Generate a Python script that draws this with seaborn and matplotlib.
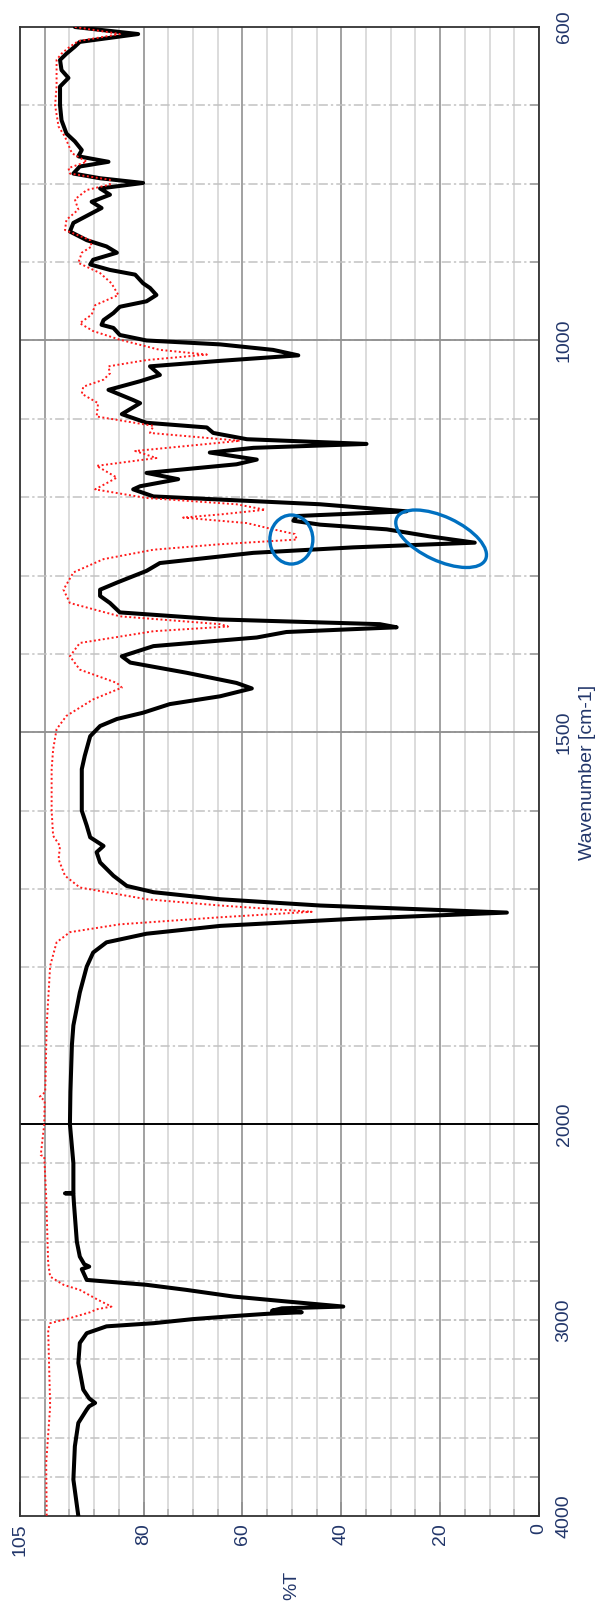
import numpy as np
import matplotlib
matplotlib.use("Agg")
import matplotlib.pyplot as plt
import seaborn as sns
from matplotlib.patches import Ellipse
from matplotlib.transforms import ScaledTranslation

sns.set_theme(style="white")
plt.rcParams['font.family'] = ['Liberation Sans', 'DejaVu Sans']

# ---------------- data ----------------
wn_black = [600, 609, 619, 625, 634, 642, 655, 665, 676, 700,
            719, 736, 746, 757, 765, 772, 778, 787, 793, 799,
            806, 814, 823, 831, 840, 850, 861, 872, 880, 888,
            897, 903, 910, 916, 927, 933, 942, 950, 957, 965,
            974, 980, 984, 993, 1000, 1005, 1012, 1019, 1026, 1033,
            1044, 1052, 1063, 1076, 1080, 1094, 1105, 1111, 1118, 1126,
            1132, 1137, 1143, 1152, 1158, 1169, 1177, 1186, 1190, 1199,
            1209, 1218, 1224, 1230, 1235, 1241, 1250, 1258, 1264, 1271,
            1284, 1294, 1309, 1318, 1326, 1335, 1347, 1356, 1362, 1366,
            1372, 1379, 1390, 1403, 1411, 1424, 1437, 1444, 1454, 1464,
            1475, 1483, 1492, 1505, 1530, 1547, 1600, 1619, 1634, 1645,
            1653, 1666, 1683, 1696, 1704, 1713, 1721, 1730, 1738, 1747,
            1757, 1768, 1781, 1799, 1832, 1874, 1899, 1959, 2000, 2200,
            2350, 2353, 2356, 2400, 2600, 2676, 2715, 2727, 2740, 2795,
            2820, 2846, 2880, 2905, 2931, 2940, 2952, 2960, 2968, 2980,
            2995, 3016, 3032, 3067, 3117, 3219, 3355, 3400, 3423, 3440,
            3457, 3525, 3644, 3814, 4000]
t_black = [93.9, 81.1, 92.9, 93.9, 95.6, 96.9, 96.6, 95.2, 96.9, 96.9,
           96.6, 95.6, 93.9, 92.5, 93.2, 87.1, 92.9, 94.2, 88.8, 80.1,
           88.8, 86.8, 90.5, 88.5, 91.2, 94.2, 94.9, 91.5, 87.5, 85.4,
           90.2, 90.8, 86.8, 81.7, 80.1, 78.7, 77.4, 79.4, 84.8, 86.1,
           88.1, 88.5, 86.1, 84.8, 79.4, 64.5, 53.8, 48.7, 64.5, 78.7,
           76.7, 80.7, 87.1, 82.1, 80.7, 84.4, 79.4, 67.2, 65.9, 59.1,
           34.9, 57.8, 66.6, 57.1, 61.2, 79.4, 73.0, 80.7, 82.1, 78.0,
           44.3, 26.8, 49.0, 49.7, 44.3, 30.8, 22.1, 13.0, 37.6, 57.8,
           76.7, 79.4, 85.4, 88.8, 88.8, 86.8, 84.8, 64.5, 32.2, 28.8,
           51.1, 57.1, 78.0, 84.4, 82.7, 71.3, 61.2, 58.1, 64.5, 74.7,
           80.1, 85.4, 88.8, 90.8, 91.9, 92.5, 92.5, 91.5, 90.8, 88.1,
           89.5, 88.8, 86.1, 83.4, 78.0, 64.5, 44.3, 6.5, 37.6, 64.5,
           79.4, 87.5, 90.2, 91.5, 92.9, 94.2, 94.5, 94.8, 94.9, 94.2,
           94.2, 95.9, 94.2, 94.1, 93.5, 92.9, 92.0, 91.0, 92.5, 91.5,
           79.4, 71.3, 61.8, 51.1, 39.6, 52.0, 54.0, 48.0, 55.0, 62.0,
           70.0, 78.0, 87.5, 91.5, 92.9, 93.2, 92.2, 91.0, 89.8, 91.0,
           91.5, 93.2, 93.9, 94.2, 93.2]

wn_red = [600, 609, 618, 625, 634, 642, 676, 700, 727, 740,
          761, 772, 780, 787, 795, 801, 808, 820, 833, 846,
          859, 872, 880, 888, 901, 914, 927, 942, 955, 967,
          978, 988, 999, 1012, 1018, 1025, 1033, 1042, 1050, 1059,
          1068, 1080, 1097, 1109, 1118, 1128, 1141, 1150, 1160, 1175,
          1190, 1201, 1209, 1216, 1222, 1226, 1233, 1241, 1247, 1254,
          1260, 1267, 1279, 1296, 1318, 1335, 1352, 1362, 1365, 1371,
          1386, 1403, 1420, 1437, 1443, 1458, 1479, 1496, 1522, 1547,
          1600, 1632, 1645, 1662, 1683, 1698, 1713, 1721, 1729, 1736,
          1745, 1755, 1768, 1798, 1874, 1959, 1965, 1970, 2000, 2158,
          2165, 2370, 2710, 2778, 2820, 2846, 2897, 2931, 2945, 2960,
          2990, 3016, 3050, 3440, 3729, 4000]
t_red = [93.9, 84.8, 93.2, 94.9, 96.6, 97.6, 97.6, 97.9, 97.2, 95.9,
         94.5, 91.5, 95.2, 94.9, 86.8, 86.8, 91.5, 93.9, 93.2, 95.6,
         95.9, 90.8, 90.5, 92.5, 93.2, 88.8, 86.5, 85.1, 89.8, 90.5,
         92.9, 90.2, 84.8, 76.7, 67.2, 79.4, 87.1, 86.8, 88.1, 92.2,
         92.5, 89.2, 89.5, 78.0, 78.7, 60.5, 81.7, 77.4, 89.5, 85.4,
         89.8, 79.4, 61.2, 55.4, 64.5, 72.0, 59.1, 53.8, 49.4, 49.0,
         64.5, 78.0, 88.1, 94.2, 96.2, 94.9, 84.8, 64.5, 62.9, 78.0,
         92.9, 94.9, 92.9, 85.4, 84.4, 90.2, 95.6, 97.6, 98.3, 98.6,
         98.6, 98.3, 96.9, 97.2, 95.9, 92.9, 79.4, 64.5, 46.0, 64.5,
         84.8, 94.9, 97.6, 98.9, 99.6, 99.9, 101.0, 100.0, 100.1, 100.8,
         100.1, 99.7, 99.3, 98.9, 96.2, 92.9, 89.2, 86.5, 89.5, 90.8,
         94.9, 98.9, 99.3, 98.9, 99.7, 99.6]

x_major_ticks = [0, 20, 40, 60, 80, 100, 105]
x_major_labels = ['0', '20', '40', '60', '80', '', '105']
x_minor_step = 5
y_major_ticks = [600, 1000, 1500, 2000, 3000, 4000]
y_minor_ticks = list(range(700, 2000, 100)) + list(range(2200, 4000, 200))
y_dark_lines = [1000, 1500]
y_break = 2000

# annotation ellipses: (%T, wavenumber, width px, height px, angle)
ell_T = [50.1, 19.8]
ell_wn = [1254, 1253]
ell_w = [43, 98]
ell_h = [49, 44]
ell_ang = [0, -25]

# ---------------- scale (compressed above 2000) ----------------
def fwd(w):
    w = np.asarray(w, float)
    return np.where(w <= 2000, w, 2000 + (w - 2000) / 4.0)

def inv(t):
    t = np.asarray(t, float)
    return np.where(t <= 2000, t, 2000 + (t - 2000) * 4.0)

W, H = 604, 1603
fig = plt.figure(figsize=(W / 100, H / 100), dpi=100)
ax = fig.add_axes([20 / W, (H - 1516) / H, 519 / W, 1489 / H])
ax.set_yscale('function', functions=(fwd, inv))

txt_color = '#22366a'

# grid
minor_x = np.arange(0, 106, x_minor_step)
for v in minor_x:
    if v % 20 == 0:
        ax.axvline(v, color='#9a9a9a', lw=1.3, zorder=1)
    else:
        ax.axvline(v, color='#d2d2d2', lw=1.1, zorder=1)
for w in y_minor_ticks + [3000]:
    ax.axhline(w, color='#c2c2c2', lw=1.1, ls=(0, (6, 2, 1.5, 2)), zorder=1)
for w in y_dark_lines:
    ax.axhline(w, color='#8f8f8f', lw=1.3, zorder=1)
ax.axhline(y_break, color='black', lw=1.4, zorder=2)

sns.lineplot(x=t_black, y=wn_black, sort=False, estimator=None, color='black',
             lw=2.9, ax=ax, zorder=3, solid_capstyle='round', solid_joinstyle='round')
sns.lineplot(x=t_red, y=wn_red, sort=False, estimator=None, color='#ff1a1a',
             lw=1.4, ls=(0, (1, 1.3)), ax=ax, zorder=4)

ax.set_xlim(105, 0)
ax.set_ylim(4000, 600)

# ticks
ax.set_xticks(x_major_ticks)
ax.set_xticklabels(x_major_labels)
ax.xaxis.set_minor_locator(matplotlib.ticker.MultipleLocator(x_minor_step))
ax.tick_params(axis='x', which='major', direction='in', length=10, width=1.2,
               bottom=True, top=False, pad=5, labelsize=14, labelcolor=txt_color,
               labelrotation=90, color='#333333')
ax.tick_params(axis='x', which='minor', direction='in', length=5, width=1.1,
               bottom=True, top=False, color='#333333')

ax.yaxis.tick_right()
ax.set_yticks(y_major_ticks)
ax.set_yticklabels([str(v) for v in y_major_ticks])
ax.set_yticks(y_minor_ticks, minor=True)
ax.yaxis.set_minor_formatter(matplotlib.ticker.NullFormatter())
ax.tick_params(axis='y', which='both', direction='in', length=6.5, width=1.2,
               left=False, right=True, labelleft=False, labelright=True,
               pad=12, labelsize=14, labelcolor=txt_color, labelrotation=90,
               color='#333333')
for lab in ax.get_yticklabels():
    lab.set_va('center')
    lab.set_ha('left')

for s in ax.spines.values():
    s.set_color('#333333')
    s.set_linewidth(1.3)
    s.set_visible(True)

ax.set_xlabel('%T', rotation=90, fontsize=14, color=txt_color, va='center', ha='center')
ax.xaxis.set_label_coords((292 - 20) / 519, (1516 - 1585) / 1489)
ax.yaxis.set_label_position('right')
ax.set_ylabel('Wavenumber [cm-1]', rotation=90, fontsize=14, color=txt_color,
              va='center', ha='center')
ax.yaxis.set_label_coords((587 - 20) / 519, (1516 - 772) / 1489)

for tx, wv, ew, eh, ang in zip(ell_T, ell_wn, ell_w, ell_h, ell_ang):
    e = Ellipse((0, 0), ew / 100, eh / 100, angle=ang, fill=False,
                ec='#0070C0', lw=2.4, zorder=6,
                transform=fig.dpi_scale_trans + ScaledTranslation(tx, wv, ax.transData))
    ax.add_patch(e)

ax.set_xlim(105, 0)
ax.set_ylim(4000, 600)
fig.savefig('out.png', dpi=100)
